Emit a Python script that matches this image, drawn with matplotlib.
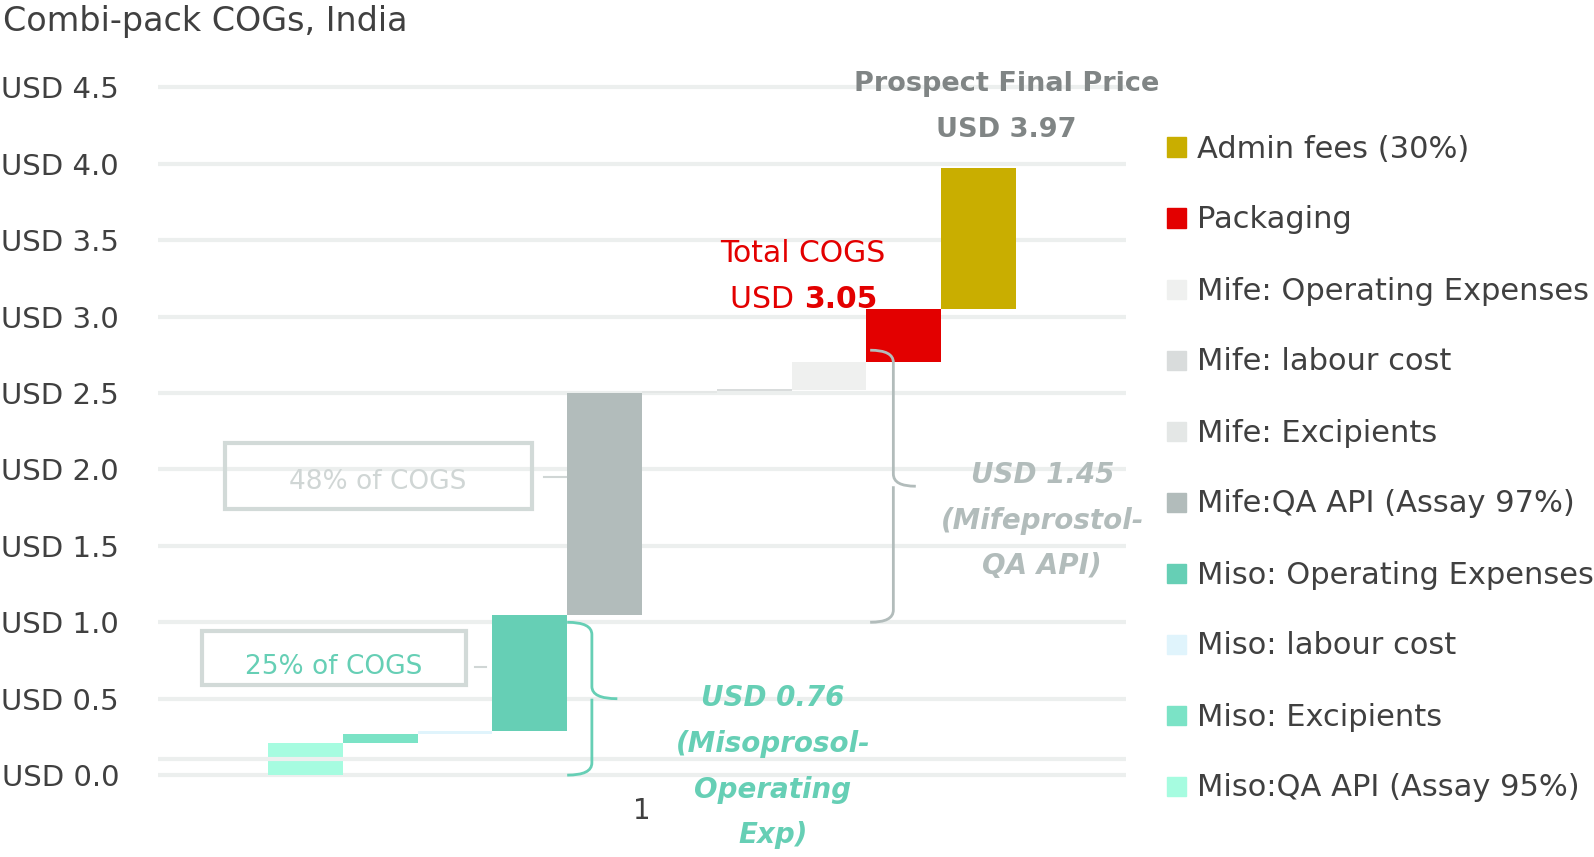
import matplotlib
matplotlib.use("Agg")
import matplotlib.pyplot as plt
from matplotlib.patches import Rectangle, PathPatch
from matplotlib.path import Path

plt.rcParams['font.family'] = ['DejaVu Sans']

# waterfall pieces, bottom to top
series = ["Miso:QA API (Assay 95%)", "Miso: Excipients", "Miso: labour cost",
          "Miso: Operating Expenses", "Mife:QA API (Assay 97%)", "Mife: Excipients",
          "Mife: labour cost", "Mife: Operating Expenses", "Packaging", "Admin fees (30%)"]
bases = [0.0, 0.21, 0.27, 0.29, 1.05, 2.50, 2.512, 2.522, 2.70, 3.05]
heights = [0.21, 0.06, 0.02, 0.76, 1.45, 0.012, 0.012, 0.178, 0.35, 0.92]
colors = ["#A6FCE0", "#7BE3C6", "#E0F4FC", "#66CFB5", "#B2BCBB",
          "#E4E7E6", "#D9DCDC", "#EFF0EF", "#E30000", "#C9AE00"]
yticks = [0, 0.5, 1.0, 1.5, 2.0, 2.5, 3.0, 3.5, 4.0, 4.5]

dark = "#404040"
grey_txt = "#808585"
mife_grey = "#B2BCBB"
miso_teal = "#66CFB5"
box_edge = "#D2DAD8"
W, H = 1594, 857

fig = plt.figure(figsize=(15.94, 8.57), dpi=100)
ax = fig.add_axes([158 / W, 36 / H, 968 / W, 749 / H])
ax.set_xlim(-1.97, 10.97)
ax.set_ylim(-0.3, 4.6)

for i in range(len(series)):
    ax.bar(i, heights[i], bottom=bases[i], width=1.0, color=colors[i], zorder=2)

for v in yticks:
    ax.axhline(v, color="#ECEFEE", lw=3, zorder=1)
ax.axhline(0.105, color="#ECEFEE", lw=3, zorder=3)

for s in ax.spines.values():
    s.set_visible(False)
ax.set_yticks(yticks)
ax.set_yticklabels(["USD %.1f" % v for v in yticks], fontsize=21, color=dark)
ax.tick_params(axis="y", length=0, pad=28)
ax.set_xticks([4.5])
ax.set_xticklabels(["1"], fontsize=20, color=dark)
ax.tick_params(axis="x", length=0, pad=-17)

fig.text(3 / W, 1 - 21 / H, "Combi-pack COGs, India", fontsize=24, color=dark,
         va="center", ha="left")

# legend, top entry first (drawn by hand to keep the row spacing)
for k, i in enumerate(range(len(series) - 1, -1, -1)):
    yc = 147 + k * 71.0
    fig.patches.append(Rectangle((1167 / W, 1 - (yc + 9.5) / H), 19 / W, 19 / H,
                                 transform=fig.transFigure, color=colors[i]))
    fig.text(1197 / W, 1 - (yc + 2) / H, series[i], fontsize=22, color=dark, va="center",
             ha="left")

# annotations
ax.text(9.37, 4.37, "Prospect Final Price\nUSD 3.97", ha="center", va="center",
        fontsize=19.5, fontweight="bold", color=grey_txt, linespacing=2.0)
ax.text(6.65, 3.41, "Total COGS", ha="center", va="center", fontsize=21.5, color="#E30000")
ax.text(6.66, 3.11, "USD ", ha="right", va="center", fontsize=21.5, color="#E30000")
ax.text(6.66, 3.11, "3.05", ha="left", va="center", fontsize=21.5, color="#E30000",
        fontweight="bold")

ax.add_patch(Rectangle((-1.07, 1.74), 4.10, 0.43, fill=False, edgecolor=box_edge, lw=3, zorder=3))
ax.text(0.97, 1.92, "48% of COGS", ha="center", va="center", fontsize=19, color="#D0D6D5")
ax.plot([3.19, 3.48], [1.95, 1.95], color="#D0D6D5", lw=1.5)

ax.add_patch(Rectangle((-1.38, 0.59), 3.53, 0.35, fill=False, edgecolor=box_edge, lw=3, zorder=3))
ax.text(0.38, 0.71, "25% of COGS", ha="center", va="center", fontsize=19, color=miso_teal)
ax.plot([2.27, 2.42], [0.71, 0.71], color="#D0D6D5", lw=1.5)


def brace(x0, xv, xt, ytop, ybot, ymid, color):
    r = 0.08
    verts = [(x0, ytop), (xv, ytop), (xv, ytop - r), (xv, ymid + r), (xv, ymid), (xt, ymid),
             (xv, ymid), (xv, ymid - r), (xv, ybot + r), (xv, ybot), (x0, ybot)]
    codes = [Path.MOVETO, Path.CURVE3, Path.CURVE3, Path.LINETO, Path.CURVE3, Path.CURVE3,
             Path.MOVETO, Path.CURVE3, Path.LINETO, Path.CURVE3, Path.CURVE3]
    ax.add_patch(PathPatch(Path(verts, codes), fill=False, edgecolor=color, lw=2, zorder=3,
                           clip_on=False))


brace(3.50, 3.83, 4.17, 1.0, 0.0, 0.5, miso_teal)
brace(7.55, 7.86, 8.16, 2.78, 1.0, 1.89, mife_grey)

ax.text(6.25, 0.055, "USD 0.76\n(Misoprosol-\nOperating\nExp)", ha="center", va="center",
        fontsize=20, fontweight="bold", style="italic", color=miso_teal, linespacing=1.8,
        clip_on=False)
ax.text(9.85, 1.665, "USD 1.45\n(Mifeprostol-\nQA API)", ha="center", va="center",
        fontsize=20, fontweight="bold", style="italic", color=mife_grey, linespacing=1.8)

fig.savefig("out.png", dpi=100)
